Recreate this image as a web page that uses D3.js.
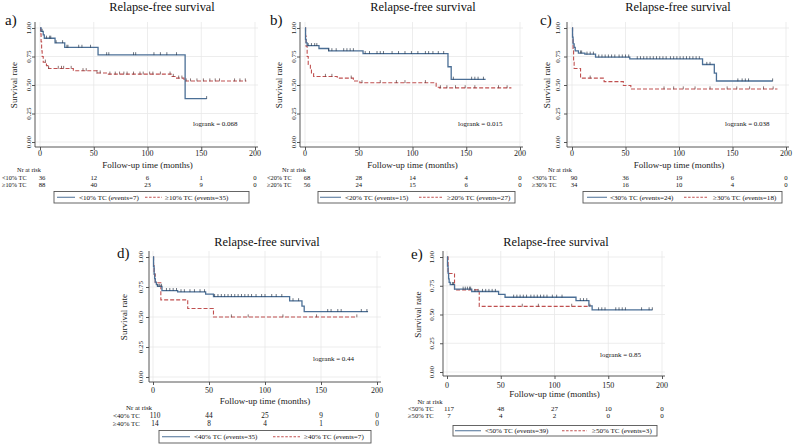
<!DOCTYPE html>
<html><head><meta charset="utf-8">
<script src="https://cdn.jsdelivr.net/npm/d3@7"></script>
<style>
html,body{margin:0;padding:0;background:#fff;}
svg{display:block;}
svg text{font-family:'Liberation Serif','Times New Roman','DejaVu Serif',serif;}
</style></head>
<body>
<svg id="chart" width="794" height="447"></svg>
<script>
// ---------- DATA ----------
const panelLetters = ["a)", "b)", "c)", "d)", "e)"];
const cutoffs = [10, 20, 30, 40, 50];
const titleText = "Relapse-free survival";
const xTicks = [0, 50, 100, 150, 200];
const yTicks = [0, 0.25, 0.5, 0.75, 1];
const yTickLabels = ["0.00", "0.25", "0.50", "0.75", "1.00"];
const logrankP = ["0.068", "0.015", "0.038", "0.44", "0.85"];
const eventsLow = [7, 15, 24, 35, 39];
const eventsHigh = [35, 27, 18, 7, 3];

const riskLow = [[36,12,6,1,0],[68,28,14,4,0],[90,36,19,6,0],[110,44,25,9,0],[117,48,27,10,0]];
const riskHigh = [[88,40,23,9,0],[56,24,15,6,0],[34,16,10,4,0],[14,8,4,1,0],[7,4,2,0,0]];

// step curves (time in months, survival)
const lowTimes = [
  [0,1,3,4,14,23,54,135,155],
  [0,0.5,1,2,13,22,54,133,136,168],
  [0,0.5,1,2,3,6,12,22,54,122,133,135,187.5],
  [0,0.5,1,1.5,2,3,4,8,22,47,54,122,133,135,192],
  [0,0.5,1,1.5,2,3,7,23,48,54,120,132,135,191]
];
const lowSurv = [
  [1,0.97,0.94,0.91,0.87,0.83,0.765,0.38,0.38],
  [1,0.90,0.87,0.845,0.82,0.80,0.775,0.66,0.55,0.55],
  [1,0.92,0.86,0.83,0.80,0.78,0.77,0.745,0.73,0.68,0.605,0.535,0.535],
  [1,0.92,0.86,0.82,0.79,0.77,0.755,0.72,0.71,0.69,0.67,0.635,0.59,0.545,0.545],
  [1,0.92,0.86,0.81,0.78,0.76,0.72,0.70,0.675,0.65,0.62,0.575,0.54,0.54]
];
const highTimes = [
  [0,0.5,1,1.5,2,3,6,8,31,53,63,122,127,134,192],
  [0,0.5,1,2,3,5,6,8,30,45,51,122,125,192],
  [0,0.5,1,1.5,2,8,30,48,55,192],
  [0,0.5,1,2,7,31,54,182],
  [0,1,7,30,133]
];
const highSurv = [
  [1,0.95,0.88,0.80,0.75,0.70,0.67,0.645,0.625,0.605,0.595,0.575,0.56,0.535,0.535],
  [1,0.93,0.84,0.75,0.68,0.64,0.60,0.575,0.56,0.535,0.52,0.48,0.475,0.475],
  [1,0.9,0.8,0.7,0.645,0.56,0.53,0.495,0.465,0.465],
  [1,0.929,0.857,0.786,0.643,0.571,0.5,0.5],
  [1,0.857,0.714,0.571,0.571]
];
// censoring times
const lowCensored = [
  [2,6,9,10,15,21,25,26,36,39,47,62,64,87,89,106,112,118,127,155],
  [3,6,9,11,22,25,29,36,39,42,45,56,60,67,70,73,81,87,93,99,105,112,115,119,124,129,138,155,158,161,166],
  [8,9,14,17,20,25,28,31,34,37,40,44,47,50,53,61,64,67,70,73,76,79,82,85,88,92,95,98,101,104,107,110,113,116,119,126,129,155,159,162,165,187.5],
  [4.5,6,7.5,12,15,18,21,25,28,33,37,42,46,55,58,61,64,67,70,73,76,79,82,85,88,92,97,100,106,110,115,125,130,156,159,165,168,186,191],
  [5,6,15,17,19,21,22,26,29,33,36,39,42,45,62,65,68,71,74,78,81,84,87,90,93,98,102,107,124,127,130,141,144,147,157,160,163,166,181,188,191]
];
const highCensored = [
  [5,8,17,20,22,29,40,43,53,56,65,70,74,78,81,87,93,96,102,105,112,121,124,129,132,136,140,146,152,158,163,167,181,186,191],
  [19,25,43,53,70,85,93,112,126,132,140,149,158,180,188],
  [17,86,95,104,115,129,145,154,166,179,188],
  [70,85,116,146,182],
  [70,85,116,133]
];

// ---------- LAYOUT ----------
const layout = [
  {x0:40,x1:255,y1:28,y0:142,top:22,right:258,axX:35,axY:147,title:[162,11],letter:[5,25],ylab:17,ytl:31,
   tickY:156,xlabY:167.5,nrY:172.3,r1:179.8,r2:187.2,rf:6.3,labX:2,nrX:29,lr:[193,125.5],
   leg:{x:54,y:191.5,w:195,h:11.5,l1:[3,21],t1:25,l2:[91,108],t2:111}},
  {x0:305,x1:520,y1:28,y0:142,top:22,right:523,axX:300,axY:147,title:[423,11],letter:[270,25],ylab:282,ytl:296,
   tickY:156,xlabY:167.5,nrY:172.3,r1:179.8,r2:187.2,rf:6.3,labX:267,nrX:294,lr:[458,125.5],
   leg:{x:318,y:191.5,w:197,h:11.5,l1:[2,23],t1:27,l2:[101,124],t2:129}},
  {x0:572,x1:786,y1:28,y0:142,top:22,right:789,axX:567,axY:147,title:[678,11],letter:[540,25],ylab:550,ytl:560,
   tickY:156,xlabY:167.5,nrY:172.3,r1:179.8,r2:187.2,rf:6.3,labX:532,nrX:560,lr:[725,125.5],
   leg:{x:583,y:191.5,w:199,h:11.5,l1:[4,24],t1:27,l2:[101,124],t2:130}},
  {x0:153,x1:377,y1:257,y0:377,top:251,right:381,axX:149,axY:382,title:[267,245.5],letter:[117,258],ylab:127,ytl:143,
   tickY:392.5,xlabY:403.5,nrY:409.8,r1:417.5,r2:425.5,rf:6.9,labX:113,nrX:139,lr:[313,360.5],
   leg:{x:159,y:430.5,w:212,h:12.5,l1:[3,31],t1:35,l2:[114,141],t2:145}},
  {x0:447,x1:662,y1:257,y0:372,top:251,right:665,axX:443,axY:376,title:[556,245.5],letter:[411,259],ylab:421,ytl:434,
   tickY:387.5,xlabY:396.8,nrY:403.5,r1:410.8,r2:418.4,rf:6.6,labX:408,nrX:430,lr:[600,356.5],
   leg:{x:453,y:425.5,w:204,h:10.5,l1:[2,28],t1:32,l2:[109,134],t2:139}}
];

const BLUE = "#4b6f96";
const RED = "#c05050";
const GRID = "#e9e9e9";
const AXIS = "#444";
const FONT = "'Liberation Serif','Times New Roman','DejaVu Serif',serif";

const svg = d3.select("#chart").attr("font-family", FONT);

function stepAt(times, surv, t) {
  let s = surv[0];
  for (let i = 0; i < times.length; i++) { if (times[i] <= t) s = surv[i]; }
  return s;
}

layout.forEach((L, i) => {
  const g = svg.append("g");
  const x = d3.scaleLinear().domain([0, 200]).range([L.x0, L.x1]);
  const y = d3.scaleLinear().domain([0, 1]).range([L.y0, L.y1]);

  // grid
  g.selectAll(".vg").data(xTicks).enter().append("line")
    .attr("x1", d => x(d)).attr("x2", d => x(d)).attr("y1", L.top).attr("y2", L.axY)
    .attr("stroke", GRID).attr("stroke-width", 0.8);
  g.selectAll(".hg").data(yTicks).enter().append("line")
    .attr("x1", L.axX).attr("x2", L.right).attr("y1", d => y(d)).attr("y2", d => y(d))
    .attr("stroke", GRID).attr("stroke-width", 0.8);

  // axes
  const xa = g.append("g").attr("transform", `translate(0,${L.axY})`)
    .call(d3.axisBottom(x).tickValues(xTicks).tickSize(3).tickFormat(""));
  xa.select(".domain").attr("d", `M${L.axX},0H${L.right}`);
  const ya = g.append("g").attr("transform", `translate(${L.axX},0)`)
    .call(d3.axisLeft(y).tickValues(yTicks).tickSize(3).tickFormat(""));
  ya.select(".domain").attr("d", `M0,${L.top}V${L.axY}`);
  g.selectAll(".domain").attr("stroke", AXIS).attr("stroke-width", 0.9);
  g.selectAll(".tick line").attr("stroke", AXIS).attr("stroke-width", 0.9);

  const T = (sel) => sel.attr("font-family", FONT);

  // x tick labels
  T(g.selectAll(".xtl").data(xTicks).enter().append("text"))
    .attr("x", d => x(d)).attr("y", L.tickY).attr("text-anchor", "middle")
    .attr("font-size", 8).attr("fill", "#222").text(d => d);
  // y tick labels (rotated)
  T(g.selectAll(".ytl").data(yTicks).enter().append("text"))
    .attr("transform", (d) => `translate(${L.ytl},${y(d)}) rotate(-90)`)
    .attr("text-anchor", "middle").attr("font-size", 7).attr("fill", "#222")
    .text((d, k) => yTickLabels[k]);

  // y label
  T(g.append("text")).attr("transform", `translate(${L.ylab},${(L.y0 + L.y1) / 2}) rotate(-90)`)
    .attr("text-anchor", "middle").attr("font-size", 9).attr("fill", "#222").text("Survival rate");
  // x label
  T(g.append("text")).attr("x", (L.x0 + L.x1) / 2).attr("y", L.xlabY).attr("text-anchor", "middle")
    .attr("font-size", 9).attr("fill", "#222").text("Follow-up time (months)");
  // title
  T(g.append("text")).attr("x", L.title[0]).attr("y", L.title[1]).attr("text-anchor", "middle")
    .attr("font-size", 12.4).attr("fill", "#111").text(titleText);
  // letter
  T(g.append("text")).attr("x", L.letter[0]).attr("y", L.letter[1])
    .attr("font-size", 15).attr("fill", "#111").text(panelLetters[i]);
  // logrank
  T(g.append("text")).attr("x", L.lr[0]).attr("y", L.lr[1])
    .attr("font-size", 7).attr("fill", "#111").text("logrank = " + logrankP[i]);

  // curves
  const line = d3.line().x(d => x(d[0])).y(d => y(d[1])).curve(d3.curveStepAfter);
  const highPts = highTimes[i].map((t, k) => [t, highSurv[i][k]]);
  const lowPts = lowTimes[i].map((t, k) => [t, lowSurv[i][k]]);
  g.append("path").attr("d", line(highPts)).attr("fill", "none")
    .attr("stroke", RED).attr("stroke-width", 1.1).attr("stroke-dasharray", "4,2");
  g.append("path").attr("d", line(lowPts)).attr("fill", "none")
    .attr("stroke", BLUE).attr("stroke-width", 1.3);

  // censor marks
  const cens = (arr, times, surv, col) => {
    g.selectAll(null).data(arr).enter().append("line")
      .attr("x1", d => x(d)).attr("x2", d => x(d))
      .attr("y1", d => y(stepAt(times, surv, d)) - 2.6)
      .attr("y2", d => y(stepAt(times, surv, d)) + 0.3)
      .attr("stroke", col).attr("stroke-width", 0.7);
  };
  cens(highCensored[i], highTimes[i], highSurv[i], "#5a3a3a");
  cens(lowCensored[i], lowTimes[i], lowSurv[i], "#2d3a4a");

  // risk table
  const lowLab = "<" + cutoffs[i] + "% TC";
  const highLab = "\u2265" + cutoffs[i] + "% TC";
  T(g.append("text")).attr("x", L.nrX).attr("y", L.nrY).attr("text-anchor", "middle")
    .attr("font-size", L.rf).attr("fill", "#111").text("Nr at risk");
  T(g.append("text")).attr("x", L.labX).attr("y", L.r1).attr("font-size", L.rf).attr("fill", "#111").text(lowLab);
  T(g.append("text")).attr("x", L.labX).attr("y", L.r2).attr("font-size", L.rf).attr("fill", "#111").text(highLab);
  T(g.selectAll(null).data(riskLow[i]).enter().append("text"))
    .attr("x", (d, k) => x(xTicks[k]) + (k === 0 ? 2 : 0)).attr("y", L.r1).attr("text-anchor", "middle")
    .attr("font-size", L.rf + 0.4).attr("fill", "#111").text(d => d);
  T(g.selectAll(null).data(riskHigh[i]).enter().append("text"))
    .attr("x", (d, k) => x(xTicks[k]) + (k === 0 ? 2 : 0)).attr("y", L.r2).attr("text-anchor", "middle")
    .attr("font-size", L.rf + 0.4).attr("fill", "#111").text(d => d);

  // legend
  const lg = L.leg;
  g.append("rect").attr("x", lg.x).attr("y", lg.y).attr("width", lg.w).attr("height", lg.h)
    .attr("fill", "#fff").attr("stroke", "#555").attr("stroke-width", 0.9);
  const cy = lg.y + lg.h / 2;
  g.append("line").attr("x1", lg.x + lg.l1[0]).attr("x2", lg.x + lg.l1[1]).attr("y1", cy).attr("y2", cy)
    .attr("stroke", BLUE).attr("stroke-width", 1);
  T(g.append("text")).attr("x", lg.x + lg.t1).attr("y", cy + 2.4).attr("font-size", 7.1).attr("fill", "#111")
    .text(lowLab + " (events=" + eventsLow[i] + ")");
  g.append("line").attr("x1", lg.x + lg.l2[0]).attr("x2", lg.x + lg.l2[1]).attr("y1", cy).attr("y2", cy)
    .attr("stroke", RED).attr("stroke-width", 1).attr("stroke-dasharray", "2.5,1.6");
  T(g.append("text")).attr("x", lg.x + lg.t2).attr("y", cy + 2.4).attr("font-size", 7.1).attr("fill", "#111")
    .text(highLab + " (events=" + eventsHigh[i] + ")");
});
</script>
</body></html>
